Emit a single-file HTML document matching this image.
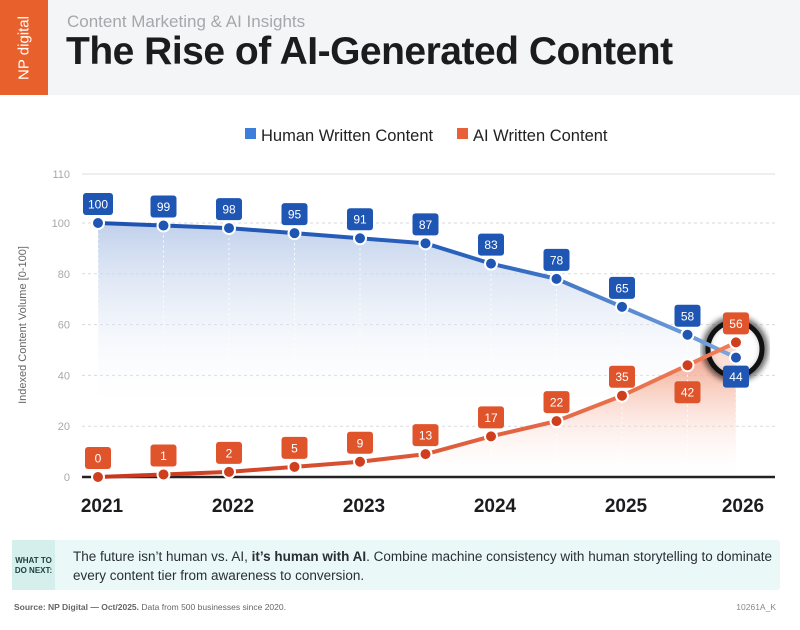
<!DOCTYPE html>
<html><head><meta charset="utf-8"><style>
body{margin:0;width:800px;height:630px;background:#fff;font-family:"Liberation Sans",sans-serif;overflow:hidden;position:relative}
.hdr{position:absolute;left:0;top:0;width:800px;height:95px;background:#f4f5f7}
.logo{position:absolute;left:0;top:0;width:48px;height:95px;background:#e8602c}
.logo span{position:absolute;left:24px;top:48px;transform:translate(-50%,-50%) rotate(-90deg);color:#fff;font-size:15px;white-space:nowrap}
.sub{position:absolute;left:67px;top:12px;font-size:17px;color:#a4a8ad}
.title{position:absolute;left:66px;top:30px;font-size:39px;font-weight:bold;color:#1c1c1e;letter-spacing:-0.5px}
.call{position:absolute;left:12px;top:540px;width:768px;height:50px;background:#eaf8f8;border-radius:3px}
.call .tag{position:absolute;left:0;top:0;width:43px;height:50px;background:#d4efec;font-size:8px;font-weight:bold;color:#1d3d3d;text-align:center;padding-top:16px;box-sizing:border-box;line-height:10px}
.call .txt{position:absolute;left:61px;top:7px;font-size:13.5px;color:#2a2f36;line-height:19px;width:700px}
.src{position:absolute;left:14px;top:602px;font-size:8.5px;color:#666}
.code{position:absolute;right:24px;top:602px;font-size:8.5px;color:#888}
</style></head><body>
<div class="hdr"></div>
<div class="logo"><span>NP digital</span></div>
<div class="sub">Content Marketing &amp; AI Insights</div>
<div class="title">The Rise of AI-Generated Content</div>
<svg id="chart" width="800" height="530" style="position:absolute;left:0;top:0">
<defs>
<linearGradient id="gb" x1="0" y1="0" x2="0" y2="1"><stop offset="0" stop-color="#b9cbe9" stop-opacity="0.9"/><stop offset="0.75" stop-color="#fff" stop-opacity="0"/></linearGradient>
<linearGradient id="go" x1="0" y1="0" x2="0" y2="1"><stop offset="0" stop-color="#f08c6c" stop-opacity="0.9"/><stop offset="1" stop-color="#fff" stop-opacity="0.1"/></linearGradient>
<linearGradient id="lb" gradientUnits="userSpaceOnUse" x1="98" y1="0" x2="737" y2="0"><stop offset="0" stop-color="#1f52b0"/><stop offset="0.6" stop-color="#2a62bd"/><stop offset="1" stop-color="#7ba7dd"/></linearGradient>
<linearGradient id="lo" gradientUnits="userSpaceOnUse" x1="98" y1="0" x2="737" y2="0"><stop offset="0" stop-color="#c9351a"/><stop offset="1" stop-color="#ef7e58"/></linearGradient>
<filter id="sh"><feGaussianBlur stdDeviation="3"/></filter>
</defs>
</svg>
<div class="call"><div class="tag">WHAT TO<br>DO NEXT:</div><div class="txt">The future isn’t human vs. AI, <b>it’s human with AI</b>. Combine machine consistency with human storytelling to dominate every content tier from awareness to conversion.</div></div>
<div class="src"><b>Source: NP Digital — Oct/2025.</b> Data from 500 businesses since 2020.</div>
<div class="code">10261A_K</div>
<script>
const periods=[2021,2021.5,2022,2022.5,2023,2023.5,2024,2024.5,2025,2025.5,2025.87];
const humanValues=[100,99,98,95,91,87,83,78,65,58,44];
const aiValues=[0,1,2,5,9,13,17,22,35,42,56];
const humanPlot=[100,99,98,96,94,92,84,78,67,56,47];
const aiPlot=[0,1,2,4,6,9,16,22,32,44,53];
const yTicks=[0,20,40,60,80,100];
const xYears=[2021,2022,2023,2024,2025,2026];
const NS="http://www.w3.org/2000/svg";
const svg=document.getElementById('chart');
const X=t=>98+(t-2021)*131;
const Y=v=>477-2.54*v;
function el(tag,a,parent){const e=document.createElementNS(NS,tag);for(const k in a)e.setAttribute(k,a[k]);(parent||svg).appendChild(e);return e;}
yTicks.forEach(v=>{
 const g=el('line',{x1:82,x2:775,y1:Y(v),y2:Y(v),stroke:'#d8dadd','stroke-dasharray':'3 3','stroke-width':1});
 
 
 const t=el('text',{x:70,y:Y(v)+4,'text-anchor':'end','font-size':11,fill:'#a5a8ad'});t.textContent=v;
 
 
});
const g110=el('line',{x1:82,x2:775,y1:174,y2:174,stroke:'#dcdde0','stroke-width':1});


const t110=el('text',{x:70,y:178,'text-anchor':'end','font-size':11,fill:'#a5a8ad'});t110.textContent='110';


const yt=el('text',{transform:'translate(26,325) rotate(-90)','text-anchor':'middle','font-size':11,fill:'#666'});yt.textContent='Indexed Content Volume [0-100]';


function pathOf(vals){return vals.map((v,i)=>(i?'L':'M')+X(periods[i])+','+Y(v)).join('');}
const last=X(periods[periods.length-1]),first=X(periods[0]);
const ab=el('path',{d:pathOf(humanPlot)+`L${last},${Y(0)}L${first},${Y(0)}Z`,fill:'url(#gb)'});


const ao=el('path',{d:pathOf(aiPlot)+`L${last},${Y(0)}L${first},${Y(0)}Z`,fill:'url(#go)'});


periods.forEach((p,i)=>{const d=el('line',{x1:X(p),x2:X(p),y1:Y(humanPlot[i]),y2:Y(0),stroke:'#fff','stroke-dasharray':'2 3','stroke-width':1,opacity:0.9});
 
 });
const ax=el('line',{x1:82,x2:775,y1:Y(0),y2:Y(0),stroke:'#222','stroke-width':2.5});


xYears.forEach((yr,i)=>{const t=el('text',{x:X(yr)+(i===5?-10:4),y:512,'text-anchor':'middle','font-size':19,'font-weight':'bold',fill:'#1c1c1e'});t.textContent=yr;
 
 });
el('circle',{cx:735,cy:349,r:29,fill:'none',stroke:'#000','stroke-width':8,filter:'url(#sh)',opacity:0.6});
const hc=el('circle',{cx:735,cy:349,r:27,fill:'rgba(255,255,255,0.6)',stroke:'#111','stroke-width':5});


const lh=el('path',{d:pathOf(humanPlot),fill:'none',stroke:'url(#lb)','stroke-width':4,'stroke-linejoin':'round'});


const lo=el('path',{d:pathOf(aiPlot),fill:'none',stroke:'url(#lo)','stroke-width':4,'stroke-linejoin':'round'});


function label(x,y,txt,col,name){
 const w=txt.length>2?30:26;
 const r=el('rect',{x:x-w/2,y:y-11,width:w,height:22,rx:3,fill:col});
 
 
 const t=el('text',{x:x,y:y+4.5,'text-anchor':'middle','font-size':12,fill:'#fff'});t.textContent=txt;
}
periods.forEach((p,i)=>{
 const x=X(p);
 const hy=Y(humanPlot[i]),oy=Y(aiPlot[i]);
 const c1=el('circle',{cx:x,cy:hy,r:6,fill:'#1f56b4',stroke:'#fff','stroke-width':2});
 
 
 const c2=el('circle',{cx:x,cy:oy,r:6,fill:'#cf3f1e',stroke:'#fff','stroke-width':2});
 
 
 const below=i===periods.length-1;
 label(x,below?hy+19:hy-19,String(humanValues[i]),'#1f56b4','human-value-label');
 const obelow=i===periods.length-2;
 label(x,obelow?oy+27:oy-19,String(aiValues[i]),'#e0542c','ai-value-label');
});
const l1=el('rect',{x:245,y:128,width:11,height:11,fill:'#3d7ddb'});


const lt1=el('text',{x:261,y:141,'font-size':16.5,fill:'#222'});lt1.textContent='Human Written Content';


const l2=el('rect',{x:457,y:128,width:11,height:11,fill:'#e8603a'});


const lt2=el('text',{x:473,y:141,'font-size':16.5,fill:'#222'});lt2.textContent='AI Written Content';


</script>
</body></html>
